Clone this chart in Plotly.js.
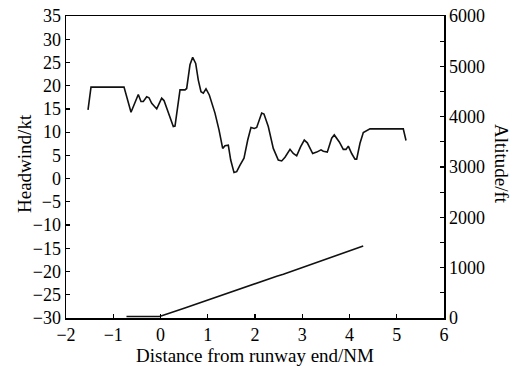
<!DOCTYPE html>
<html>
<head>
<meta charset="utf-8">
<script src="https://cdn.plot.ly/plotly-3.0.1.min.js"></script>
<style>html,body{margin:0;padding:0;background:#fff;}#chart{width:516px;height:366px;}</style>
</head>
<body>
<div id="chart"></div>
<script>
// Headwind series (distance in NM, headwind in kt)
const windDistance = [-1.534, -1.471, -0.772, -0.624, -0.47, -0.413, -0.364, -0.292, -0.243, -0.186, -0.08, 0.025, 0.074, 0.165, 0.271, 0.307, 0.413, 0.519, 0.554, 0.624, 0.681, 0.745, 0.8, 0.857, 0.906, 0.963, 1.033, 1.153, 1.238, 1.316, 1.365, 1.435, 1.486, 1.556, 1.613, 1.683, 1.767, 1.846, 1.915, 1.985, 2.036, 2.142, 2.19, 2.281, 2.387, 2.493, 2.565, 2.635, 2.741, 2.81, 2.882, 2.967, 3.043, 3.107, 3.221, 3.306, 3.397, 3.446, 3.53, 3.623, 3.678, 3.784, 3.869, 3.926, 3.975, 4.046, 4.116, 4.152, 4.222, 4.292, 4.434, 5.138, 5.196];
const headwind = [14.8, 19.7, 19.7, 14.3, 18.1, 16.6, 16.6, 17.6, 17.4, 16.2, 15.0, 17.3, 16.8, 14.1, 11.2, 11.3, 19.1, 19.1, 19.4, 24.5, 26.1, 24.8, 21.2, 18.7, 18.4, 19.3, 18.0, 14.1, 10.5, 6.5, 7.1, 7.2, 4.0, 1.3, 1.5, 2.9, 4.4, 8.3, 11.0, 10.8, 11.0, 14.1, 13.9, 11.2, 6.5, 4.0, 3.8, 4.6, 6.3, 5.4, 4.9, 6.9, 8.3, 7.7, 5.4, 5.7, 6.2, 5.9, 5.7, 8.7, 9.4, 7.9, 6.3, 6.3, 7.0, 5.4, 4.2, 4.2, 7.6, 9.9, 10.7, 10.7, 8.2];

// Altitude series (distance in NM, altitude in ft)
const altDistance = [-0.72, -0.02, 0.5, 1, 1.5, 2, 2.35, 2.46, 2.6, 3, 3.5, 4, 4.29];
const altitude = [30, 30, 195, 360, 525, 690, 805, 830, 870, 1000, 1165, 1335, 1430];

// Axis labels
const xTitle = 'Distance from runway end/NM';
const yTitle = 'Headwind/kt';
const y2Title = 'Altitude/ft';

const font = {family: '"Liberation Serif", "Times New Roman", serif', size: 18, color: '#000'};
const titleFont = {family: '"Liberation Serif", "Times New Roman", serif', size: 19, color: '#000'};

const traces = [
  {x: windDistance, y: headwind, type: 'scatter', mode: 'lines',
   line: {color: '#111', width: 1.6}, xaxis: 'x', yaxis: 'y', hoverinfo: 'skip'},
  {x: altDistance, y: altitude, type: 'scatter', mode: 'lines',
   line: {color: '#111', width: 1.6}, xaxis: 'x', yaxis: 'y2', hoverinfo: 'skip'}
];

const layout = {
  width: 516, height: 366,
  margin: {l: 66, r: 72, t: 16, b: 48},
  paper_bgcolor: '#fff', plot_bgcolor: '#fff',
  showlegend: false,
  font: font,
  xaxis: {
    range: [-2, 6], dtick: 1, tick0: -2,
    showgrid: false, zeroline: false,
    showline: true, linecolor: '#000', linewidth: 1.5, mirror: true,
    ticks: 'inside', ticklen: 4, tickwidth: 1.2, tickcolor: '#000',
    tickfont: font,
    title: {text: xTitle, font: titleFont, standoff: 0}
  },
  yaxis: {
    range: [-30, 35], dtick: 5, tick0: -30,
    showgrid: false, zeroline: false,
    showline: true, linecolor: '#000', linewidth: 1.5,
    ticks: 'inside', ticklen: 4, tickwidth: 1.2, tickcolor: '#000',
    tickfont: font
  },
  yaxis2: {
    overlaying: 'y', side: 'right',
    range: [0, 6000], dtick: 1000, tick0: 0,
    showgrid: false, zeroline: false,
    showline: true, linecolor: '#000', linewidth: 1.5,
    ticks: 'inside', ticklen: 4, tickwidth: 1.2, tickcolor: '#000',
    minor: {dtick: 500, ticks: 'inside', ticklen: 4, tickwidth: 1.2, tickcolor: '#000', showgrid: false},
    tickfont: font
  },
  annotations: [
    {text: yTitle, xref: 'paper', yref: 'paper', x: 0, xshift: -41, y: 0.51,
     textangle: -90, showarrow: false, font: titleFont, xanchor: 'center', yanchor: 'middle'},
    {text: y2Title, xref: 'paper', yref: 'paper', x: 1, xshift: 57, y: 0.51,
     textangle: 90, showarrow: false, font: titleFont, xanchor: 'center', yanchor: 'middle'}
  ]
};

Plotly.newPlot('chart', traces, layout, {staticPlot: true, displayModeBar: false});
</script>
</body>
</html>
